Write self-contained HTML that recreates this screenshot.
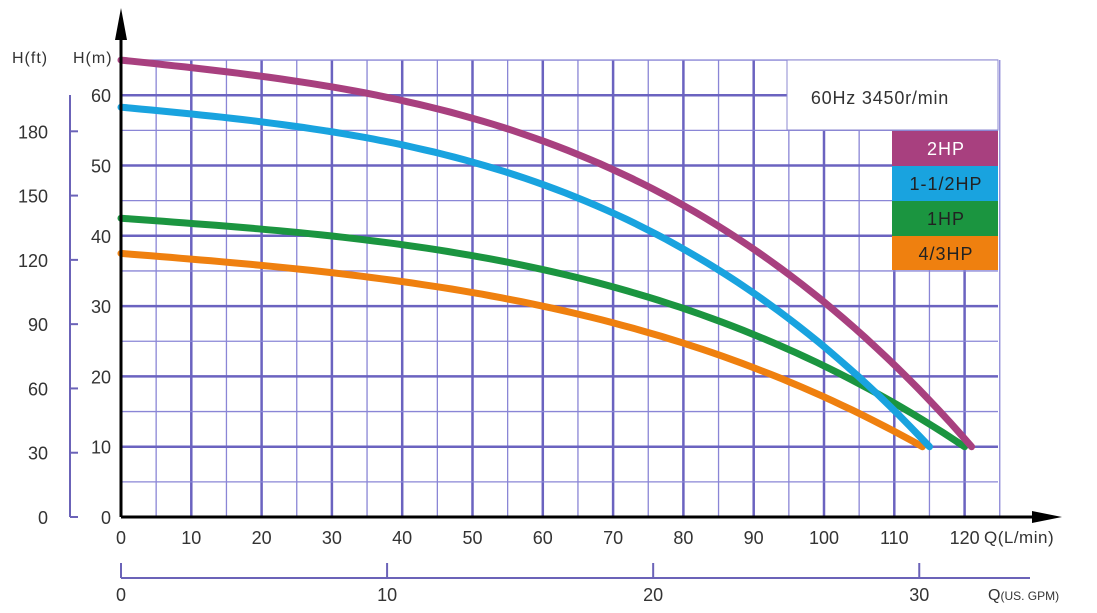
<!DOCTYPE html>
<html><head><meta charset="utf-8"><style>
html,body{margin:0;padding:0;background:#fff;}
svg{display:block;font-family:"Liberation Sans",sans-serif;}
</style></head><body>
<svg id="s" width="1097" height="613" viewBox="0 0 1097 613" xmlns="http://www.w3.org/2000/svg">
<g id="grid"></g>
<rect x="787" y="60" width="211" height="70" fill="#fff" stroke="#8c88d0" stroke-width="1"/>
<text x="880" y="104" font-size="18" fill="#333" text-anchor="middle" letter-spacing="0.8">60Hz  3450r/min</text>
<rect x="892" y="131" width="106" height="35" fill="#a8407f"/>
<rect x="892" y="166" width="106" height="35" fill="#19a3df"/>
<rect x="892" y="201" width="106" height="35" fill="#1b9540"/>
<rect x="892" y="236" width="106" height="34" fill="#ef800f"/>
<g font-size="18" text-anchor="middle" letter-spacing="1">
<text x="946" y="155" fill="#fff">2HP</text>
<text x="946" y="190" fill="#222">1-1/2HP</text>
<text x="946" y="225" fill="#222">1HP</text>
<text x="946" y="260" fill="#222">4/3HP</text>
</g>
<g id="curves" fill="none" stroke-width="7" stroke-linecap="round"></g>
<line x1="121" y1="517" x2="121" y2="30" stroke="#000" stroke-width="3"/>
<polygon points="121,8 115,40 127,40" fill="#000"/>
<line x1="121" y1="517" x2="1040" y2="517" stroke="#000" stroke-width="3"/>
<polygon points="1062,517 1032,511 1032,523" fill="#000"/>
<text x="12" y="63" font-size="16" fill="#333" letter-spacing="1">H(ft)</text>
<text x="73" y="63" font-size="16" fill="#333" letter-spacing="1">H(m)</text>
<text x="984" y="543" font-size="17" fill="#333" letter-spacing="0.5">Q(L/min)</text>
<text x="988" y="600" font-size="16" fill="#333">Q<tspan font-size="12">(US. GPM)</tspan></text>
<g id="labels" font-size="18" fill="#333"></g>
<g stroke="#6b63b8" stroke-width="2" fill="none">
<line x1="70" y1="95" x2="70" y2="517"/>
<line x1="121" y1="578" x2="1030" y2="578"/>
</g>
<g id="ticks" stroke="#6b63b8" stroke-width="2"></g>
</svg>
<script>
var NS="http://www.w3.org/2000/svg";
function el(p,t,a,txt){var e=document.createElementNS(NS,t);for(var k in a)e.setAttribute(k,a[k]);if(txt!==undefined)e.textContent=txt;document.getElementById(p).appendChild(e);}
function X(q){return 121+q*7.03;}function Y(h){return 517-h*7.03;}
for(var q=5;q<=125;q+=5){var maj=q%10==0;el("grid","line",{x1:X(q),y1:60,x2:X(q),y2:517,stroke:maj?"#6b63c0":"#8a86d6","stroke-width":maj?2.5:1.3});}
for(var h=5;h<=65;h+=5){var maj=h%10==0;el("grid","line",{x1:121,y1:Y(h),x2:998,y2:Y(h),stroke:maj?"#6b63c0":"#8a86d6","stroke-width":maj?2.5:1.3});}
for(var q=0;q<=120;q+=10)el("labels","text",{x:X(q),y:544,"text-anchor":"middle"},q);
for(var h=0;h<=60;h+=10)el("labels","text",{x:111,y:Y(h)+7,"text-anchor":"end"},h);
for(var f=0;f<=180;f+=30){var y=517-f*0.3048*7.03;el("labels","text",{x:48,y:y+7,"text-anchor":"end"},f);if(f>0)el("ticks","line",{x1:70,y1:y,x2:78,y2:y});}
el("ticks","line",{x1:70,y1:517,x2:78,y2:517});
for(var g=0;g<=30;g+=10){var x=X(g*3.785);el("labels","text",{x:x,y:601,"text-anchor":"middle"},g);el("ticks","line",{x1:x,y1:563,x2:x,y2:578});}
var cs=[["#ef800f",37.5,114,0.0805,1.237e-5],["#1b9540",42.5,120,0.072,1.381e-5],["#19a3df",58.3,115,0.0948,2.459e-5],["#a8407f",65,121,0.106,2.381e-5]];
cs.forEach(function(c){var d="";for(var i=0;i<=80;i++){var q=c[2]*i/80;var hh=c[1]-c[3]*q-c[4]*q*q*q;d+=(i?"L":"M")+X(q).toFixed(1)+" "+Y(hh).toFixed(1);}el("curves","path",{d:d,stroke:c[0],"stroke-linejoin":"round"});});
</script>
</body></html>
